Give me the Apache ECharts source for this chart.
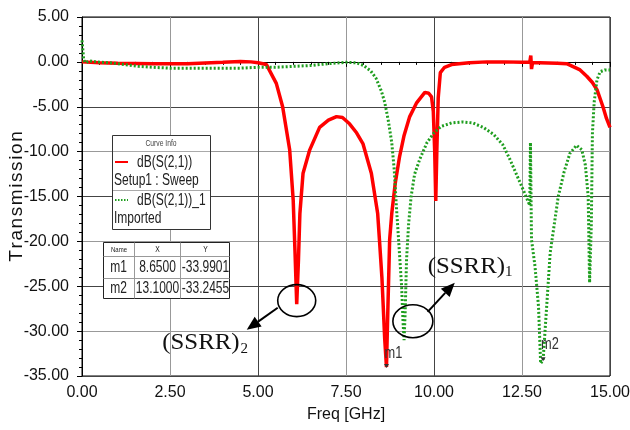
<!DOCTYPE html>
<html><head><meta charset="utf-8">
<script src="https://cdn.jsdelivr.net/npm/echarts@6/dist/echarts.min.js"></script>
<style>html,body{margin:0;padding:0;background:#fff}#c{width:630px;height:430px}</style>
</head><body><div id="c"></div>
<script>
// ---- data ----
const redFreq = [0,0.5,1.0,2.0,3.0,4.0,4.5,4.8,5.0,5.24,5.52,5.7,5.9,6.0,6.05,6.1,6.15,6.19,6.28,6.47,6.75,7.0,7.23,7.4,7.6,7.8,7.98,8.22,8.4,8.45,8.52,8.6,8.65,8.68,8.74,8.8,8.9,9.02,9.15,9.31,9.5,9.74,9.85,9.93,9.98,10.02,10.05,10.08,10.12,10.18,10.3,10.5,11.0,11.5,12.0,12.5,12.72,12.75,12.77,12.8,13.0,13.5,13.77,14.15,14.34,14.5,14.63,14.8,14.9,15.0];
const redDb   = [0.0,-0.1,-0.15,-0.2,-0.2,-0.05,0.05,0.0,-0.1,-0.3,-2.4,-5.0,-9.8,-15.4,-21,-27,-22,-16.9,-12.4,-9.8,-7.3,-6.5,-6.1,-6.2,-6.9,-7.9,-9.1,-12.4,-16.9,-19.8,-24,-30.9,-34.0,-29,-19.8,-16.9,-13.5,-10.6,-8.2,-6.1,-4.6,-3.4,-3.5,-3.9,-5.5,-10,-15.5,-10,-4,-1.2,-0.6,-0.3,-0.1,0.0,0.0,-0.05,-0.05,0.7,-0.8,-0.1,-0.1,-0.15,-0.2,-0.9,-1.6,-2.3,-3.1,-5.0,-6.3,-7.3];
const greenFreq = [0,0.05,0.1,0.2,0.4,0.8,1.2,1.6,2.0,2.5,3.5,4.5,5.0,5.5,6.0,6.5,7.0,7.5,7.8,8.0,8.2,8.35,8.5,8.6,8.7,8.8,8.87,8.93,8.98,9.03,9.08,9.12,9.15,9.18,9.22,9.28,9.35,9.45,9.6,9.8,10.0,10.2,10.5,10.8,11.1,11.4,11.7,11.95,12.15,12.35,12.55,12.72,12.74,12.77,12.87,12.97,13.03,13.1,13.2,13.3,13.53,13.7,13.86,14.05,14.2,14.3,14.38,14.42,14.47,14.5,14.55,14.63,14.72,14.85,15.0];
const greenDb   = [2.4,0.2,-0.1,0.1,0.0,-0.1,-0.3,-0.5,-0.6,-0.7,-0.7,-0.7,-0.6,-0.6,-0.5,-0.4,-0.2,-0.05,-0.1,-0.4,-1.0,-1.8,-3.2,-4.5,-6.5,-9.0,-12,-16,-19,-22,-25,-29,-31,-28,-22,-18,-15,-12.5,-10.8,-9.0,-7.9,-7.2,-6.8,-6.7,-6.8,-7.3,-8.1,-9.2,-10.8,-12.6,-14.4,-16,-9.0,-19.8,-22.8,-27.3,-33.6,-33.2,-27.3,-21.3,-15,-12.2,-10.2,-9.3,-9.8,-11.5,-15,-24.6,-18,-8,-4.5,-2,-1.1,-0.9,-0.9];
const xTickLabels = ['0.00','2.50','5.00','7.50','10.00','12.50','15.00'];
const yTickLabels = ['-35.00','-30.00','-25.00','-20.00','-15.00','-10.00','-5.00','0.00','5.00'];
const yAxisTitle = 'Transmission';
const xAxisTitle = 'Freq [GHz]';
const seriesNames = ['dB(S(2,1))','dB(S(2,1))_1'];
const seriesSetups = ['Setup1 : Sweep','Imported'];
const markerNames = ['m1','m2'];
const markerX = [8.65,13.10];
const markerY = [-33.9901,-33.2455];

const zip = (a,b)=>a.map((v,i)=>[v,b[i]]);
const chart = echarts.init(document.getElementById('c'), null, {renderer:'canvas'});
const FONT = 'Liberation Sans, Arial, sans-serif';

chart.setOption({
  animation:false,
  backgroundColor:'#fff',
  grid:{left:82,right:20,top:17,bottom:54,show:true,borderColor:'#000',borderWidth:1,containLabel:false,outerBoundsMode:'none'},
  xAxis:{type:'value',min:0,max:15,interval:2.5,
    name:xAxisTitle,nameLocation:'middle',nameGap:31,
    nameTextStyle:{fontFamily:FONT,fontSize:16,color:'#111'},
    axisLine:{show:true,lineStyle:{color:'#000',width:1}},
    axisTick:{show:true,length:5,lineStyle:{color:'#000'}},
    minorTick:{show:true,splitNumber:5,length:3,lineStyle:{color:'#000'}},
    axisLabel:{fontFamily:FONT,fontSize:16,color:'#111',margin:9,
      formatter:(v)=>{const i=Math.round(v/2.5);return xTickLabels[i]||'';}},
    splitLine:{show:true,lineStyle:{color:['#444','#999'],width:1}}
  },
  yAxis:{type:'value',min:-35,max:5,interval:5,
    axisLine:{show:true,lineStyle:{color:'#000',width:1}},
    axisTick:{show:true,length:5,lineStyle:{color:'#000'}},
    minorTick:{show:true,splitNumber:5,length:3,lineStyle:{color:'#000'}},
    axisLabel:{fontFamily:FONT,fontSize:16,color:'#111',margin:13,
      formatter:(v)=>{const i=Math.round((v+35)/5);return yTickLabels[i]||'';}},
    splitLine:{show:true,lineStyle:{color:['#444','#999'],width:1}}
  },
  series:[
    {name:seriesNames[0],type:'line',data:zip(redFreq,redDb),showSymbol:false,
      lineStyle:{color:'#ff0000',width:3.5},z:3},
    {name:seriesNames[1],type:'line',data:zip(greenFreq,greenDb),showSymbol:false,
      lineStyle:{color:'#1f9e1f',width:3,type:[2,2]},z:4}
  ]
});

// ---- overlays (axis title, legend box, marker table, annotations) ----
const P = (x,y)=>chart.convertToPixel({gridIndex:0},[x,y]);
const g = [];
const narrow = (text,x,y,size,align,extra)=>Object.assign({type:'text',x:x,y:y,scaleX:0.75,z:20,
  style:Object.assign({text:text,fontFamily:FONT,fontSize:size,fill:'#222',align:align||'left',verticalAlign:'middle'},extra||{})});

// y axis title (letter-spaced, rotated)
const yc = P(0,-15)[1];
g.push({type:'text',x:17,y:yc,rotation:Math.PI/2,z:20,
  style:{text:yAxisTitle.split('').join('\u200A'),fontFamily:FONT,fontSize:19,fill:'#111',align:'center',verticalAlign:'middle'}});

// legend box
g.push({type:'rect',shape:{x:112.5,y:135.5,width:98,height:94},style:{fill:'#fff',stroke:'#333',lineWidth:1},z:10});
g.push(narrow('Curve Info',161,144,9,'center',{fill:'#444'}));
g.push({type:'line',shape:{x1:113,y1:151.5,x2:210,y2:151.5},style:{stroke:'#aaa',lineWidth:1},z:11});
g.push({type:'line',shape:{x1:113,y1:190.5,x2:210,y2:190.5},style:{stroke:'#aaa',lineWidth:1},z:11});
g.push({type:'line',shape:{x1:115,y1:162,x2:128,y2:162},style:{stroke:'#ff0000',lineWidth:2},z:11});
g.push({type:'line',shape:{x1:115,y1:200,x2:128,y2:200},style:{stroke:'#1f9e1f',lineWidth:2,lineDash:[1.5,1.5]},z:11});
g.push(narrow(seriesNames[0],137,163,16));
g.push(narrow(seriesSetups[0],114,181,16));
g.push(narrow(seriesNames[1],137,201,16));
g.push(narrow(seriesSetups[1],114,219,16));

// marker table
g.push({type:'rect',shape:{x:103.5,y:242.5,width:126,height:56},style:{fill:'#fff',stroke:'#222',lineWidth:1},z:10});
[[134.5,242.5,134.5,298.5],[180.5,242.5,180.5,298.5],[103.5,256.5,229.5,256.5],[103.5,278.5,229.5,278.5]].forEach(l=>{
  g.push({type:'line',shape:{x1:l[0],y1:l[1],x2:l[2],y2:l[3]},style:{stroke:'#999',lineWidth:1},z:11});
});
g.push(narrow('Name',119,249.5,8,'center'));
g.push(narrow('X',157.5,249.5,9,'center'));
g.push(narrow('Y',205.5,249.5,9,'center'));
markerNames.forEach((n,i)=>{
  const cy = i===0?268:288.5;
  g.push(narrow(n,118.5,cy,16,'center'));
  g.push(narrow(markerX[i].toFixed(4),157.5,cy,16,'center'));
  g.push(narrow(markerY[i].toFixed(4),205.5,cy,16,'center'));
});

// marker labels on curves
markerNames.forEach((n,i)=>{
  const p = P(markerX[i],markerY[i]);
  g.push({type:'polygon',shape:{points:[[p[0]-2.5,p[1]-3],[p[0]+2.5,p[1]-3],[p[0],p[1]+1]]},style:{fill:'#333'},z:21});
  g.push(Object.assign(narrow(n,p[0]-2,p[1]-(i===0?13:16),16),{scaleX:0.8,style:{text:n,fontFamily:FONT,fontSize:16,fill:'#333',align:'left',verticalAlign:'middle'}}));
});

// annotations (data coordinates)
const ellipses = [[6.10,-26.6,19,16],[9.40,-28.9,20,16.5]];
const arrows = [[5.56,-27.4,4.68,-29.85],[9.82,-27.85,10.59,-24.6]];
const labels = [['(SSRR)','2',2.28,-31.3,4.5,-31.95],['(SSRR)','1',9.82,-22.8,12.02,-23.4]];
ellipses.forEach(e=>{const p=P(e[0],e[1]);
  g.push({type:'ellipse',shape:{cx:p[0],cy:p[1],rx:e[2],ry:e[3]},style:{fill:'none',stroke:'#000',lineWidth:1.6},z:22});});
arrows.forEach(a=>{const s=P(a[0],a[1]),t=P(a[2],a[3]);
  const dx=t[0]-s[0],dy=t[1]-s[1],L=Math.hypot(dx,dy),ux=dx/L,uy=dy/L,nx=-uy,ny=ux,hl=14,hw=6;
  const bx=t[0]-ux*hl,by=t[1]-uy*hl;
  g.push({type:'line',shape:{x1:s[0],y1:s[1],x2:bx,y2:by},style:{stroke:'#000',lineWidth:2},z:22});
  g.push({type:'polygon',shape:{points:[[t[0],t[1]],[bx+nx*hw,by+ny*hw],[bx-nx*hw,by-ny*hw]]},style:{fill:'#000'},z:22});});
labels.forEach(l=>{const p=P(l[2],l[3]),q=P(l[4],l[5]);
  g.push({type:'text',x:p[0],y:p[1],scaleX:1.08,z:22,style:{text:l[0],fontFamily:'Liberation Serif, Times New Roman, serif',fontSize:23,fill:'#111',align:'left',verticalAlign:'middle'}});
  g.push({type:'text',x:q[0],y:q[1],z:22,style:{text:l[1],fontFamily:'Liberation Serif, Times New Roman, serif',fontSize:15,fill:'#111',align:'left',verticalAlign:'middle'}});
});

chart.setOption({graphic:g});
</script></body></html>
